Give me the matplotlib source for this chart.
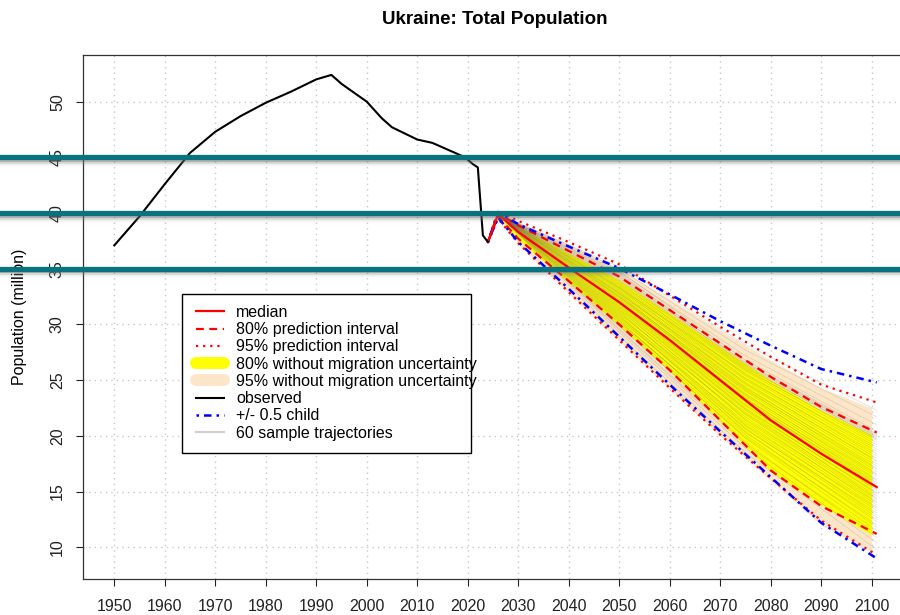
import matplotlib
matplotlib.use("Agg")
import matplotlib.pyplot as plt
import matplotlib.patheffects as pe
from matplotlib.lines import Line2D
from matplotlib.patches import Rectangle

plt.rcParams['font.family'] = ['Liberation Sans', 'DejaVu Sans']

# observed population (million)
obs_years = [1950, 1955, 1960, 1965, 1970, 1975, 1980, 1985, 1990, 1993, 1995,
             2000, 2003, 2005, 2010, 2013, 2015, 2019, 2020, 2021, 2022, 2023, 2024]
obs_pop = [37.1, 39.7, 42.6, 45.4, 47.3, 48.7, 49.9, 50.9, 52.0, 52.4, 51.6,
           50.0, 48.5, 47.7, 46.6, 46.3, 45.9, 45.1, 44.8, 44.4, 44.1, 38.0, 37.4]

# projection lines
proj_years = [2024, 2026, 2030, 2040, 2050, 2060, 2070, 2080, 2090, 2101]
median = [37.4, 39.9, 38.3, 35.1, 32.0, 28.6, 25.0, 21.4, 18.4, 15.4]
pi80_lo = [37.4, 39.7, 37.7, 33.9, 30.0, 25.9, 21.4, 16.9, 13.7, 11.2]
pi80_hi = [37.4, 40.0, 38.9, 36.6, 34.3, 31.3, 28.3, 25.3, 22.6, 20.3]
pi95_lo = [37.4, 39.5, 37.3, 32.9, 28.6, 24.3, 20.1, 16.2, 12.4, 9.3]
pi95_hi = [37.4, 40.2, 39.3, 37.4, 35.4, 32.6, 29.8, 27.1, 24.6, 23.0]
half_lo = [37.4, 39.6, 37.4, 33.2, 28.9, 24.6, 20.4, 16.3, 12.2, 9.0]
half_hi = [37.4, 40.1, 39.0, 37.0, 35.05, 32.7, 30.3, 28.1, 26.0, 24.8]

# bands without migration uncertainty
band_years = [2024, 2026, 2030, 2040, 2050, 2060, 2070, 2080, 2090, 2100]
nomig80_lo = [37.4, 39.7, 37.6, 33.8, 29.9, 25.8, 21.3, 16.8, 13.8, 11.1]
nomig80_hi = [37.4, 40.0, 38.8, 36.4, 34.0, 31.0, 28.0, 25.0, 22.3, 20.1]
nomig95_lo = [37.4, 39.5, 37.2, 32.8, 28.5, 24.2, 20.0, 16.0, 12.0, 9.6]
nomig95_hi = [37.4, 40.2, 39.2, 37.2, 35.0, 32.3, 29.5, 26.8, 24.3, 22.5]

# sample trajectories (values in 2050, 2075, 2101)
traj_years = [2024, 2026, 2050, 2075, 2101]
traj_2050 = [29.0, 29.3, 29.6, 29.5, 29.9, 30.1, 29.8, 30.3, 30.4, 30.2,
             30.6, 30.8, 30.5, 30.9, 31.1, 30.7, 31.2, 31.4, 31.0, 31.5,
             31.3, 31.7, 31.6, 31.9, 31.8, 32.0, 32.2, 31.9, 32.3, 32.1,
             32.5, 32.4, 32.7, 32.6, 32.8, 32.5, 33.0, 32.9, 33.1, 32.8,
             33.3, 33.2, 33.5, 33.4, 33.6, 33.3, 33.8, 33.7, 34.0, 33.9,
             34.2, 34.1, 34.4, 34.3, 34.6, 34.5, 34.8, 34.7, 35.0, 35.2]
traj_2075 = [18.5, 18.9, 19.4, 19.2, 19.8, 20.1, 19.9, 20.4, 20.3, 20.7,
             20.9, 20.6, 21.2, 21.0, 21.4, 21.7, 21.5, 21.9, 22.0, 22.3,
             22.1, 22.5, 22.4, 22.8, 22.7, 23.0, 23.2, 23.1, 23.4, 23.3,
             23.6, 23.8, 23.7, 24.0, 24.2, 24.1, 24.4, 24.3, 24.6, 24.8,
             24.7, 25.0, 25.2, 25.1, 25.4, 25.6, 25.5, 25.8, 26.0, 25.9,
             26.2, 26.1, 26.3, 26.4, 26.5, 26.6, 26.8, 27.2, 27.7, 28.2]
traj_2101 = [9.8, 10.4, 10.9, 11.2, 11.5, 11.8, 12.0, 12.3, 12.5, 12.7,
             12.9, 13.1, 13.3, 13.5, 13.6, 13.8, 14.0, 14.1, 14.3, 14.4,
             14.6, 14.8, 14.9, 15.1, 15.2, 15.4, 15.5, 15.7, 15.8, 16.0,
             16.1, 16.3, 16.5, 16.6, 16.8, 17.0, 17.1, 17.3, 17.5, 17.7,
             17.8, 18.0, 18.2, 18.4, 18.6, 18.8, 19.0, 19.2, 19.4, 19.6,
             19.7, 19.8, 19.9, 20.0, 20.1, 20.2, 20.4, 21.0, 21.7, 22.3]

marked_levels = [45, 40, 35]
xticks = list(range(1950, 2101, 10))
yticks = list(range(10, 51, 5))

fig = plt.figure(figsize=(9, 6.15), dpi=100)
ax = fig.add_axes([0.0922, 0.0585, 0.9156, 0.8521])

ax.fill_between(band_years, nomig95_lo, nomig95_hi, color='#fde6c8', lw=0, zorder=2)
ax.fill_between(band_years, nomig80_lo, nomig80_hi, color='#ffff00', lw=0, zorder=3)

for a, b, c in zip(traj_2050, traj_2075, traj_2101):
    ax.plot(traj_years, [median[0], median[1], a, b, c], color='#606060',
            lw=0.35, alpha=0.3, zorder=4)

ax.plot(proj_years, pi95_lo, color='red', lw=1.6, ls=(0, (1, 2.2)), zorder=5)
ax.plot(proj_years, pi95_hi, color='red', lw=1.6, ls=(0, (1, 2.2)), zorder=5)
ax.plot(proj_years, pi80_lo, color='red', lw=1.6, ls=(0, (3.5, 2.5)), zorder=5)
ax.plot(proj_years, pi80_hi, color='red', lw=1.6, ls=(0, (3.5, 2.5)), zorder=5)
ax.plot(proj_years, half_lo, color='blue', lw=1.8, ls=(0, (1, 2, 3, 2)), zorder=5)
ax.plot(proj_years, half_hi, color='blue', lw=1.8, ls=(0, (1, 2, 3, 2)), zorder=5)
ax.plot(proj_years, median, color='red', lw=1.6, zorder=6)
ax.plot(obs_years, obs_pop, color='black', lw=1.5, zorder=6)

ax.set_xlim(1943.8, 2107.0)
ax.set_ylim(7.15, 54.19)
ax.set_xticks(xticks)
ax.set_yticks(yticks)
ax.set_yticklabels([str(v) for v in yticks], rotation=90, va='center')
ax.tick_params(axis='both', direction='out', length=5, width=0.8,
               labelsize=11.5, colors='#222222')
ax.tick_params(axis='x', pad=9.5)
ax.tick_params(axis='y', pad=8)
for s in ax.spines.values():
    s.set_linewidth(0.9)
    s.set_color('#333333')
ax.grid(True, color='#c8c8c8', ls=(0, (1, 3)), lw=1)
ax.set_axisbelow(True)

ax.set_title('Ukraine: Total Population', fontsize=13.5, fontweight='bold', pad=22.5)
ax.set_ylabel('Population (million)', fontsize=11.5)
ax.yaxis.set_label_coords(-0.068, 0.5)

# legend with a fixed-width box
ax.add_patch(Rectangle((0.1198, 0.241), 0.351, 0.303, transform=ax.transAxes,
                       facecolor='white', edgecolor='black', lw=1, zorder=7))
handles = [
    Line2D([], [], color='red', lw=1.6),
    Line2D([], [], color='red', lw=1.6, ls=(0, (3.5, 2.5))),
    Line2D([], [], color='red', lw=1.6, ls=(0, (1, 2.2))),
    Line2D([], [], color='#ffff00', lw=8.6, solid_capstyle='round'),
    Line2D([], [], color='#fde6c8', lw=8.6, solid_capstyle='round'),
    Line2D([], [], color='black', lw=1.5),
    Line2D([], [], color='blue', lw=1.8, ls=(0, (1, 2, 3, 2))),
    Line2D([], [], color='#d0d0d0', lw=1.5),
]
labels = ['median', '80% prediction interval', '95% prediction interval',
          '80% without migration uncertainty', '95% without migration uncertainty',
          'observed', '+/- 0.5 child', '60 sample trajectories']
leg = ax.legend(handles, labels, loc='upper left', bbox_to_anchor=(0.127, 0.5382),
                frameon=False, fontsize=11.5, borderaxespad=0, borderpad=0.5,
                handlelength=1.75, handletextpad=0.8, labelspacing=0.14)
leg.set_zorder(8)

shadow = [pe.SimpleLineShadow(offset=(0, -1.2), shadow_color='#555555', alpha=0.35),
          pe.SimpleLineShadow(offset=(0, -2.6), shadow_color='#777777', alpha=0.2),
          pe.SimpleLineShadow(offset=(0, -4.0), shadow_color='#999999', alpha=0.1),
          pe.Normal()]
for lev in marked_levels:
    ax.axhline(lev, xmin=-0.2, xmax=1.2, color='#08737e', lw=3.8, clip_on=False,
               zorder=10, path_effects=shadow)

fig.savefig('out.png', dpi=100)
